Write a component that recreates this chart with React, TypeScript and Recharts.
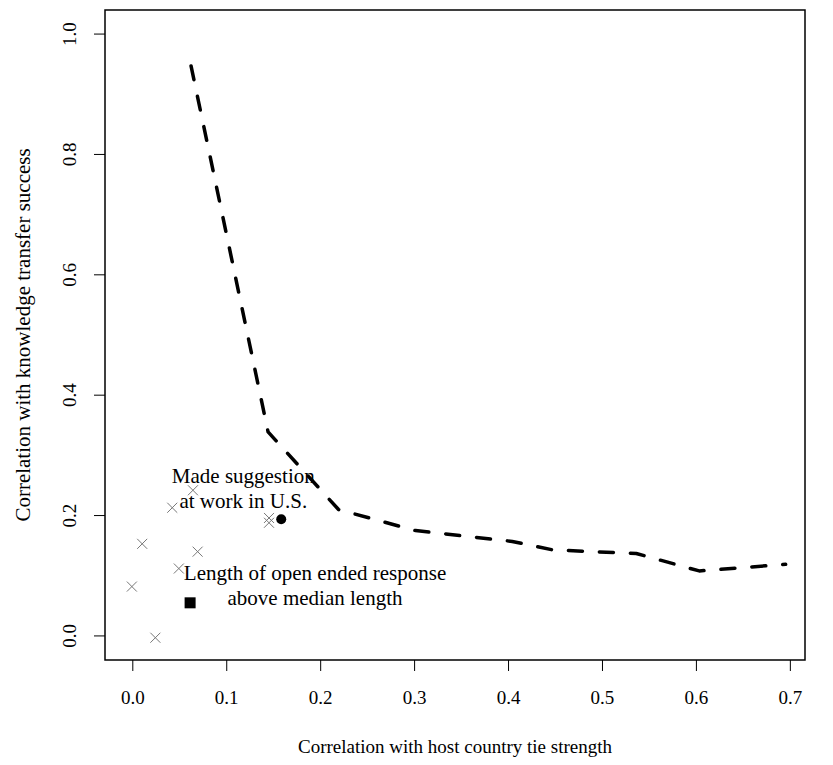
import React from "react";
import { ScatterChart, Scatter, XAxis, YAxis, ReferenceArea, Label } from "recharts";

// tick values
const xTicks = [0, 0.1, 0.2, 0.3, 0.4, 0.5, 0.6, 0.7];
const yTicks = [0, 0.2, 0.4, 0.6, 0.8, 1.0];

// grey crosses (other items)
const crossX = [0.064, 0.042, 0.145, 0.145, 0.01, 0.069, 0.049, -0.001, 0.024];
const crossY = [0.242, 0.213, 0.196, 0.188, 0.153, 0.14, 0.112, 0.082, -0.003];

// highlighted items
const circleX = [0.158];
const circleY = [0.194];
const squareX = [0.061];
const squareY = [0.055];

// dashed frontier curve
const curveX = [0.062, 0.144, 0.219, 0.301, 0.404, 0.447, 0.536, 0.603, 0.695];
const curveY = [0.947, 0.339, 0.21, 0.175, 0.157, 0.143, 0.137, 0.108, 0.119];

// annotation text
const noteX = [0.1176, 0.194];
const noteY = [0.2446, 0.083];
const noteText = [
  ["Made suggestion", "at work in U.S."],
  ["Length of open ended response", "above median length"],
];

const crosses = crossX.map((x, i) => ({ x, y: crossY[i] }));
const circles = circleX.map((x, i) => ({ x, y: circleY[i] }));
const squares = squareX.map((x, i) => ({ x, y: squareY[i] }));
const curve = curveX.map((x, i) => ({ x, y: curveY[i] }));
const notes = noteX.map((x, i) => ({ x, y: noteY[i], lines: noteText[i] }));

const TXT = { fontFamily: "Liberation Serif", fontSize: 19 };
const BIG = { fontFamily: "Liberation Serif", fontSize: 21 };
const X_DOMAIN = [-0.0296, 0.7156];
const Y_DOMAIN = [-0.04, 1.04];

const Cross = (props: any) => {
  const { cx, cy } = props;
  const s = 5;
  return (
    <g stroke="#777" strokeWidth={1}>
      <line x1={cx - s} y1={cy - s} x2={cx + s} y2={cy + s} />
      <line x1={cx - s} y1={cy + s} x2={cx + s} y2={cy - s} />
    </g>
  );
};

const Dot = (props: any) => <circle cx={props.cx} cy={props.cy} r={5} fill="#000" />;

const Square = (props: any) => (
  <rect x={props.cx - 5.5} y={props.cy - 5.5} width={11} height={11} fill="#000" />
);

const Note = (props: any) => {
  const { cx, cy, payload } = props;
  const lines: string[] = payload.lines;
  const gap = 25;
  const top = cy - ((lines.length - 1) * gap) / 2;
  return (
    <g>
      {lines.map((t, i) => (
        <text key={i} x={cx} y={top + i * gap} textAnchor="middle" dominantBaseline="central" style={BIG} fill="#000">
          {t}
        </text>
      ))}
    </g>
  );
};

const XTick = (props: any) => {
  const { x, y, payload } = props;
  return (
    <text x={x} y={y + 10} textAnchor="middle" dominantBaseline="central" style={TXT} fill="#000">
      {payload.value.toFixed(1)}
    </text>
  );
};

const YTick = (props: any) => {
  const { x, y, payload } = props;
  return (
    <text
      x={x}
      y={y}
      transform={`rotate(-90, ${x}, ${y})`}
      textAnchor="middle"
      dominantBaseline="central"
      style={TXT}
      fill="#000"
    >
      {payload.value.toFixed(1)}
    </text>
  );
};

export default function App() {
  return (
    <div style={{ position: "absolute", left: 0, top: 0, background: "#fff" }}>
      <ScatterChart width={833} height={765} margin={{ top: 10, right: 28, bottom: 0, left: 0 }}>
        <XAxis
          type="number"
          dataKey="x"
          domain={X_DOMAIN}
          ticks={xTicks}
          allowDataOverflow
          axisLine={false}
          tickSize={11}
          tickLine={{ stroke: "#000", strokeWidth: 1 }}
          tickMargin={16}
          tick={<XTick />}
          height={105}
        >
          <Label
            content={(p: any) => (
              <text
                x={p.viewBox.x + p.viewBox.width / 2}
                y={p.viewBox.y + 86}
                textAnchor="middle"
                dominantBaseline="central"
                style={TXT}
                fill="#000"
              >
                Correlation with host country tie strength
              </text>
            )}
          />
        </XAxis>
        <YAxis
          type="number"
          dataKey="y"
          domain={Y_DOMAIN}
          ticks={yTicks}
          allowDataOverflow
          axisLine={false}
          tickSize={11}
          tickLine={{ stroke: "#000", strokeWidth: 1 }}
          tickMargin={24}
          tick={<YTick />}
          width={105}
        >
          <Label
            content={(p: any) => {
              const cx = 23;
              const cy = p.viewBox.y + p.viewBox.height / 2;
              return (
                <text
                  x={cx}
                  y={cy}
                  transform={`rotate(-90, ${cx}, ${cy})`}
                  textAnchor="middle"
                  dominantBaseline="central"
                  style={BIG}
                  fill="#000"
                >
                  Correlation with knowledge transfer success
                </text>
              );
            }}
          />
        </YAxis>
        <ReferenceArea
          x1={X_DOMAIN[0]}
          x2={X_DOMAIN[1]}
          y1={Y_DOMAIN[0]}
          y2={Y_DOMAIN[1]}
          fill="none"
          stroke="#000"
          strokeWidth={1.5}
          ifOverflow="visible"
        />
        <Scatter
          data={curve}
          line={{ stroke: "#000", strokeWidth: 3.5, strokeDasharray: "14 17", strokeLinecap: "round", strokeLinejoin: "round" }}
          shape={() => <g />}
          isAnimationActive={false}
        />
        <Scatter data={crosses} shape={<Cross />} isAnimationActive={false} />
        <Scatter data={circles} shape={<Dot />} isAnimationActive={false} />
        <Scatter data={squares} shape={<Square />} isAnimationActive={false} />
        <Scatter data={notes} shape={<Note />} isAnimationActive={false} />
      </ScatterChart>
    </div>
  );
}
